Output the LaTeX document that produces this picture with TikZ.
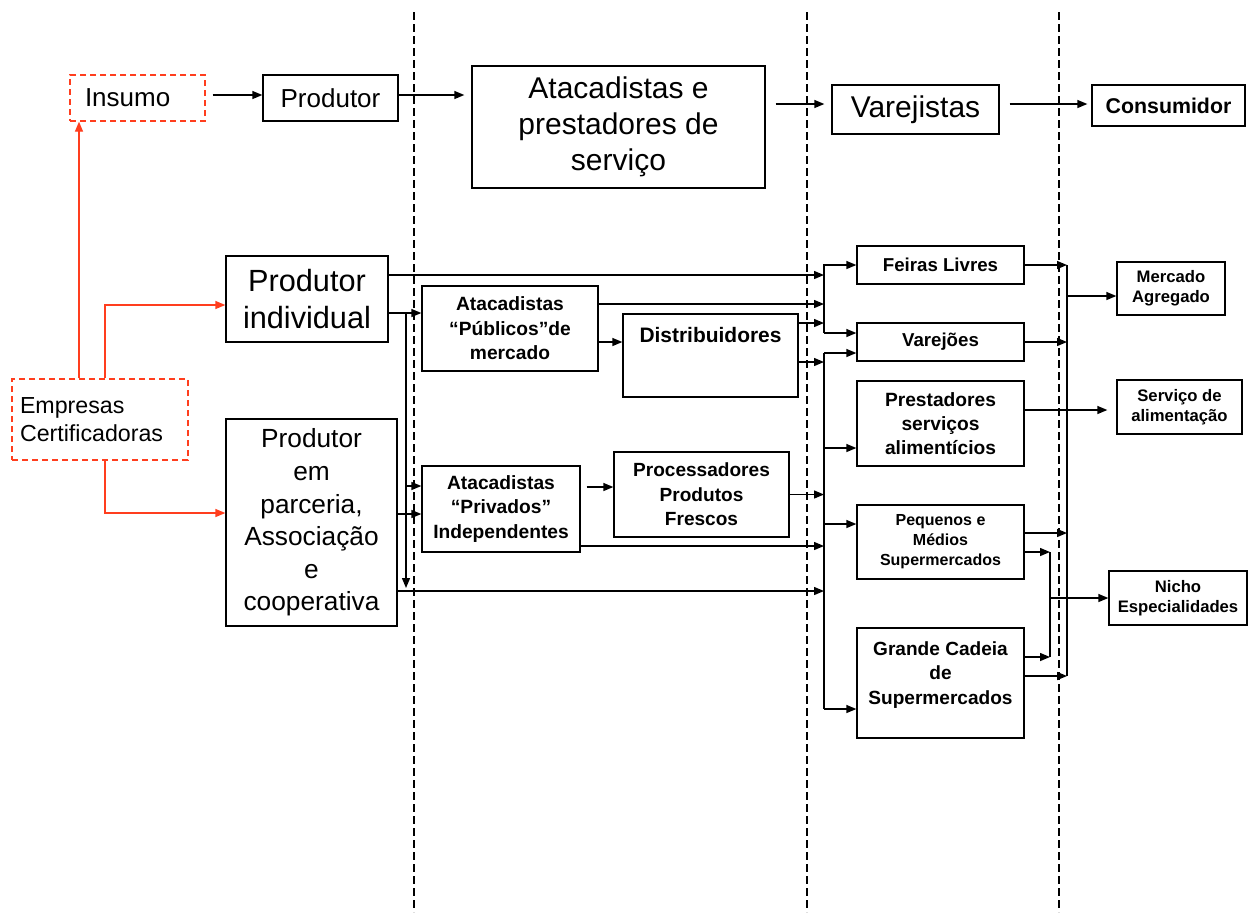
\documentclass[tikz,border=0pt]{standalone}
\usepackage{fontspec}
\setmainfont{Liberation Sans}
\usetikzlibrary{arrows.meta}
\newdimen\pxu \pxu=0.75pt
\newcommand\setfs[2]{\fontsize{#1}{#2}\selectfont}
\definecolor{certred}{RGB}{255,62,30}
\begin{document}
\begin{tikzpicture}[x=0.75pt,y=-0.75pt,
  box/.style={draw, line width=1pt, inner sep=0pt, align=center},
  certbox/.style={draw=certred, line width=1pt, dash pattern=on 4.5pt off 3pt, inner sep=0pt},
  arr/.style={line width=1pt, -{Triangle[length=7.5pt,width=6pt]}},
  redarr/.style={arr, certred},
  divider/.style={line width=0.9pt, dash pattern=on 6pt off 3pt},
  bold/.style={font=\setfs{#1}{18.4}\bfseries}
]
\fill[white] (0,0) rectangle (1248,915);
\useasboundingbox (0,0) rectangle (1248,915);

% stage dividers
\draw[divider] (414,12) -- (414,912);
\draw[divider] (807,12) -- (807,912);
\draw[divider] (1059,12) -- (1059,912);

% ---- simplified chain ----
\node[certbox, minimum width=135\pxu, minimum height=46\pxu, text width=105\pxu, align=left,
      font=\setfs{19.5}{23}] (insumo) at (137.5,98) {Insumo};
\node[box, minimum width=135\pxu, minimum height=46\pxu, font=\setfs{19.5}{23}] (produtor) at (330.5,98) {Produtor};
\node[box, minimum width=293\pxu, minimum height=122\pxu, font=\setfs{22.5}{27}] (atactop) at (618.5,127)
     {Atacadistas e\\prestadores de\\serviço};
\node[box, minimum width=167\pxu, minimum height=49\pxu, font=\setfs{22.5}{27}] (varejistas) at (915.5,109.5) {Varejistas};
\node[box, minimum width=153\pxu, minimum height=41\pxu, font=\setfs{16}{19}\bfseries] (consumidor) at (1168.5,105.5) {Consumidor};

\coordinate (pt1) at ([yshift=3\pxu]produtor.east);
\coordinate (vt1) at ([yshift=5.5\pxu]varejistas.east);
\draw[arr, shorten <=7\pxu] ([yshift=3\pxu]insumo.east) -- (pt1 -| produtor.west);
\draw[arr, shorten >=7\pxu] (pt1) -- (pt1 -| atactop.west);
\draw[arr, shorten <=10\pxu, shorten >=7\pxu] (vt1 -| atactop.east) -- (vt1 -| varejistas.west);
\draw[arr, shorten <=10\pxu, shorten >=4\pxu] (vt1) -- (vt1 -| consumidor.west);

% ---- producers and certifiers ----
\node[certbox, minimum width=176\pxu, minimum height=81\pxu, text width=160\pxu, align=left,
      font=\setfs{17.4}{21}] (empresas) at (100,419.5) {Empresas\\Certificadoras};
\node[box, minimum width=162\pxu, minimum height=86\pxu, font=\setfs{23}{27.75}] (prodind) at (307,299)
     {Produtor\\individual};
\node[box, minimum width=171\pxu, minimum height=207\pxu, font=\setfs{19.7}{24.4}] (parceria) at (311.5,522.5)
     {Produtor\\em\\parceria,\\Associação\\e\\cooperativa};

\draw[redarr] ([xshift=-21\pxu]empresas.north) -- ([xshift=-21\pxu]empresas.north |- insumo.south);
\draw[redarr] ([xshift=5\pxu]empresas.north) |- ([yshift=-6\pxu]prodind.west);
\draw[redarr] ([xshift=5\pxu]empresas.south) |- ([yshift=9.5\pxu]parceria.west);

% ---- intermediaries ----
\node[box, minimum width=176\pxu, minimum height=85\pxu, bold=14.4] (atacpub) at (510,328.5)
     {Atacadistas\\“Públicos”de\\mercado};
\node[box, minimum width=175\pxu, minimum height=83\pxu,
      label={[anchor=north, inner sep=0pt, yshift=-14\pxu, font=\setfs{15.7}{19}\bfseries]north:Distribuidores}]
     (distrib) at (710.5,355.5) {};
\node[box, minimum width=158\pxu, minimum height=86\pxu, bold=14.4] (atacpriv) at (501,509)
     {Atacadistas\\“Privados”\\Independentes};
\node[box, minimum width=175\pxu, minimum height=85\pxu, bold=14.3] (process) at (701.5,494.5)
     {Processadores\\Produtos\\Frescos};

% ---- retail ----
\node[box, minimum width=167\pxu, minimum height=38\pxu, bold=14] (feiras) at (940.5,265) {Feiras Livres};
\node[box, minimum width=167\pxu, minimum height=38\pxu, bold=14] (varejoes) at (940.5,342) {Varejões};
\node[box, minimum width=167\pxu, minimum height=85\pxu, font=\setfs{14.4}{18}\bfseries] (prestadores) at (940.5,423.5)
     {Prestadores\\serviços\\alimentícios};
\node[box, minimum width=167\pxu, minimum height=74\pxu, font=\setfs{12}{15}\bfseries] (pequenos) at (940.5,542)
     {Pequenos e\\Médios\\Supermercados};
\node[box, minimum width=167\pxu, minimum height=110\pxu,
      label={[anchor=center, align=center, yshift=8\pxu, font=\setfs{14.3}{18.4}\bfseries]center:Grande Cadeia\\de\\Supermercados}]
     (grande) at (940.5,683) {};

% ---- consumer markets ----
\node[box, minimum width=108\pxu, minimum height=53\pxu, font=\setfs{12.5}{15}\bfseries] (mercado) at (1171,288.5)
     {Mercado\\Agregado};
\node[box, minimum width=125\pxu, minimum height=54\pxu, font=\setfs{12.5}{15}\bfseries] (servico) at (1179.5,407)
     {Serviço de\\alimentação};
\node[box, minimum width=138\pxu, minimum height=54\pxu, font=\setfs{12.5}{15}\bfseries] (nicho) at (1178,598)
     {Nicho\\Especialidades};

% bus lines
\coordinate (busL) at (824,0);
\coordinate (busR) at (1067,0);
\coordinate (busS) at (1050,0);
\coordinate (vL) at (406,0);

% producers -> intermediaries / retail
\coordinate (pi1) at ([yshift=24\pxu]prodind.east);
\coordinate (pi2) at ([yshift=-14\pxu]prodind.east);
\coordinate (pc1) at ([yshift=8.5\pxu]parceria.east);
\coordinate (pc2) at ([yshift=-68.5\pxu]parceria.east);
\coordinate (ap1) at ([yshift=23\pxu]atacpriv.west);
\draw[arr] (pi1) -- (pi1 -| busL);
\draw[arr] (pi2) -- (pi2 -| atacpub.west);
\draw[arr, shorten >=3\pxu] (pi2 -| vL) -- (pc2 -| vL);
\draw[arr] (ap1 -| vL) -- (ap1);
\draw[arr] (pc1) -- (pc1 -| atacpriv.west);
\draw[arr] (pc2) -- (pc2 -| busL);

% intermediaries -> retail
\coordinate (pu1) at ([yshift=24.5\pxu]atacpub.east);
\coordinate (pu2) at ([yshift=-13.5\pxu]atacpub.east);
\coordinate (di1) at ([yshift=32.5\pxu]distrib.east);
\coordinate (di2) at ([yshift=-6.5\pxu]distrib.east);
\coordinate (pv1) at ([yshift=22\pxu]atacpriv.east);
\coordinate (pv2) at ([yshift=-37\pxu]atacpriv.east);
\draw[arr] (pu1) -- (pu1 -| busL);
\draw[arr] (pu2) -- (pu2 -| distrib.west);
\draw[arr] (di1) -- (di1 -| busL);
\draw[arr] (di2) -- (di2 -| busL);
\draw[arr, shorten <=6\pxu] (pv1) -- (pv1 -| process.west);
\draw[arr] (pv2) -- (pv2 -| busL);
\draw[arr] (process.east) -- (process.east -| busL);

% left distribution bus -> retail
\coordinate (vj1) at ([yshift=9\pxu]varejoes.west);
\coordinate (vj2) at ([yshift=-11\pxu]varejoes.west);
\coordinate (ps1) at ([yshift=-24.5\pxu]prestadores.west);
\coordinate (pq1) at ([yshift=18\pxu]pequenos.west);
\coordinate (gc1) at ([yshift=-26\pxu]grande.west);
\draw[arr] (vj1 -| busL) |- (feiras.west);
\draw[arr] (vj1 -| busL) -- (vj1);
\draw[line width=1pt] (vj2 -| busL) -- (gc1 -| busL);
\draw[arr] (vj2 -| busL) -- (vj2);
\draw[arr] (ps1 -| busL) -- (ps1);
\draw[arr] (pq1 -| busL) -- (pq1);
\draw[arr] (gc1 -| busL) -- (gc1);

% retail -> consumer markets
\coordinate (pq2) at ([yshift=9\pxu]pequenos.east);
\coordinate (gc2) at ([yshift=7\pxu]grande.east);
\coordinate (pq3) at ([yshift=-10\pxu]pequenos.east);
\coordinate (gc3) at ([yshift=26\pxu]grande.east);
\coordinate (ps2) at ([yshift=13.5\pxu]prestadores.east);
\coordinate (mq) at ([yshift=-7.5\pxu]mercado.west);
\draw[line width=1pt] (feiras.east -| busR) -- (gc2 -| busR);
\draw[arr] (feiras.east) -- (feiras.east -| busR);
\draw[arr] (varejoes.east) -- (varejoes.east -| busR);
\draw[arr] (pq2) -- (pq2 -| busR);
\draw[arr] (gc2) -- (gc2 -| busR);
\draw[arr] (mq -| busR) -- (mq);
\draw[arr, shorten >=9\pxu] (ps2) -- (ps2 -| servico.west);
\draw[line width=1pt] (pq3 -| busS) -- (gc3 -| busS);
\draw[arr] (pq3) -- (pq3 -| busS);
\draw[arr] (gc3) -- (gc3 -| busS);
\draw[arr] (busS |- nicho.west) -- (nicho.west);
\end{tikzpicture}
\end{document}
